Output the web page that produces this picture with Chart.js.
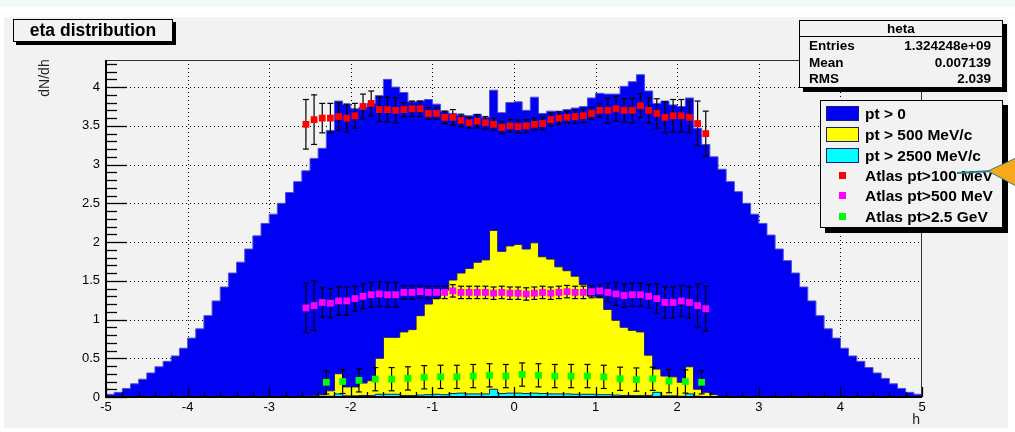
<!DOCTYPE html>
<html>
<head>
<meta charset="utf-8">
<title>eta distribution</title>
<script src="https://cdn.jsdelivr.net/npm/chart.js@4.4.1/dist/chart.umd.min.js"></script>
<style>
  html, body { margin: 0; padding: 0; background: #ffffff; }
  #wrap { position: relative; width: 1015px; height: 432px; overflow: hidden;
          font-family: "Liberation Sans", Arial, Helvetica, sans-serif; color: #000; }
  #topband { position: absolute; left: 0; top: 0; width: 1015px; height: 7px; background: #f3f9f9; }
  #pad { position: absolute; left: 4px; top: 17px; width: 1004px; height: 411px; background: #f2f2f2; }
  #plot { position: absolute; left: 0; top: 0; }
  .box { position: absolute; box-sizing: border-box; background: #f2f2f2; border: 1px solid #000; }
  #title { left: 13px; top: 19px; width: 160px; height: 23px; box-shadow: 3px 3px 0 #000;
           font-weight: bold; font-size: 17.5px; line-height: 21px; text-align: center; }
  #stats { left: 799px; top: 20px; width: 204px; height: 68px; box-shadow: 4px 4px 0 #000;
           font-weight: bold; font-size: 13.5px; }
  #stats .head { position: absolute; left: 0; top: 0; width: 100%; height: 15px; line-height: 15px;
                 text-align: center; border-bottom: 1px solid #000; }
  #stats .row { position: absolute; left: 9px; right: 11px; height: 16px; line-height: 16px; }
  #stats .row span:last-child { position: absolute; right: 0; }
  #legend { left: 820px; top: 100px; width: 183px; height: 128px; box-shadow: 5px 5px 0 #000;
            font-weight: bold; font-size: 15.5px; }
  #legend .entry { position: absolute; left: 0; height: 20px; line-height: 20px; width: 100%; }
  #legend .label { position: absolute; left: 44px; top: 0; white-space: nowrap; }
  #legend .fillbox { position: absolute; left: 5px; top: 2px; width: 33px; height: 15px;
                     box-sizing: border-box; border: 1px solid #1a1a80; }
  #legend .marker { position: absolute; left: 18px; top: 6px; width: 7px; height: 7px; }
  #ytitle { position: absolute; left: 14px; top: 70px; width: 60px; height: 16px; line-height: 16px;
            text-align: center; font-size: 14px; color: #222; transform: rotate(-90deg); }
  #xtitle { position: absolute; left: 890px; top: 411px; width: 30px; height: 16px; line-height: 16px;
            text-align: right; font-size: 14px; color: #222; }
  #callout { position: absolute; left: 0; top: 0; }
</style>
</head>
<body>
<div id="wrap">
  <div id="topband"></div>
  <div id="pad"></div>
  <canvas id="plot" width="1015" height="432" style="width:1015px;height:432px"></canvas>
  <div id="ytitle">dN/dh</div>
  <div id="xtitle">h</div>
  <div class="box" id="title">eta distribution</div>
  <div class="box" id="stats">
    <div class="head">heta</div>
    <div class="row" style="top:17px"><span>Entries</span><span>1.324248e+09</span></div>
    <div class="row" style="top:34px"><span>Mean</span><span>0.007139</span></div>
    <div class="row" style="top:50px"><span>RMS</span><span>2.039</span></div>
  </div>
  <div class="box" id="legend">
    <div class="entry" style="top:3px"><div class="fillbox" style="background:#0000f2"></div><div class="label">pt &gt; 0</div></div>
    <div class="entry" style="top:24px"><div class="fillbox" style="background:#ffff00"></div><div class="label">pt &gt; 500 MeV/c</div></div>
    <div class="entry" style="top:45px"><div class="fillbox" style="background:#00ffff"></div><div class="label">pt &gt; 2500 MeV/c</div></div>
    <div class="entry" style="top:65px"><div class="marker" style="background:#ff0000"></div><div class="label">Atlas pt&gt;100 MeV</div></div>
    <div class="entry" style="top:85px"><div class="marker" style="background:#ff00ff"></div><div class="label">Atlas pt&gt;500 MeV</div></div>
    <div class="entry" style="top:106px"><div class="marker" style="background:#00ff00"></div><div class="label">Atlas pt&gt;2.5 GeV</div></div>
  </div>
  <svg id="callout" width="1015" height="432" viewBox="0 0 1015 432">
    <line x1="957" y1="173" x2="992" y2="171" stroke="#2d7d8e" stroke-width="2"/>
    <polygon points="988,171 1016,158 1016,186" fill="#f7a81b" stroke="#2d7d8e" stroke-width="1"/>
  </svg>
</div>

<script>
// Histogram binning: 100 bins of 0.1 in eta over [-5, 5]
const ETA_MIN = -5;
const BIN_WIDTH = 0.1;

// charged particle density, all pt (bins from -5.0 to 5.0)
const dNdEtaAll = [
  0.034, 0.06, 0.11, 0.17, 0.23, 0.31, 0.39, 0.46, 0.53, 0.63,
  0.76, 0.88, 1.05, 1.24, 1.42, 1.60, 1.74, 1.91, 2.08, 2.24,
  2.36, 2.50, 2.64, 2.78, 2.92, 3.08, 3.21, 3.44, 3.82, 3.78,
  3.72, 3.74, 3.79, 3.89, 4.10, 4.00, 3.93, 3.81, 3.82, 3.84,
  3.78, 3.69, 3.66, 3.64, 3.63, 3.65, 3.61, 3.96, 3.67, 3.80,
  3.81, 3.70, 3.87, 3.66, 3.69, 3.69, 3.71, 3.73, 3.75, 3.86,
  3.92, 3.91, 3.91, 4.01, 4.07, 4.16, 3.95, 3.79, 3.82, 3.77,
  3.75, 3.86, 3.47, 3.26, 3.10, 2.94, 2.78, 2.65, 2.50, 2.36,
  2.24, 2.09, 1.91, 1.76, 1.60, 1.42, 1.24, 1.05, 0.88, 0.76,
  0.63, 0.53, 0.46, 0.38, 0.31, 0.24, 0.17, 0.11, 0.06, 0.035
];

// pt > 500 MeV/c and pt > 2500 MeV/c are only filled for |eta| < 2.5
const ETA_MIN_CENTRAL = -2.5;
const dNdEtaPt500 = [
  0.02, 0.03, 0.08, 0.30, 0.13, 0.13, 0.18, 0.21, 0.50, 0.77,
  0.77, 0.84, 0.87, 1.05, 1.20, 1.27, 1.38, 1.51, 1.60, 1.66,
  1.74, 1.77, 2.15, 1.88, 1.95,
  1.97, 1.91, 1.99, 1.81, 1.78, 1.68, 1.63, 1.56, 1.45, 1.30,
  1.28, 1.13, 0.99, 0.90, 0.86, 0.84, 0.54, 0.36, 0.27, 0.26,
  0.19, 0.39, 0.10, 0.06, 0.03
];
const dNdEtaPt2500 = [
  0.005, 0.01, 0.01, 0.04, 0.015, 0.015, 0.02, 0.02, 0.035, 0.035,
  0.035, 0.02, 0.02, 0.025, 0.03, 0.035, 0.03, 0.045, 0.05, 0.04,
  0.04, 0.04, 0.10, 0.045, 0.05,
  0.05, 0.045, 0.05, 0.045, 0.04, 0.04, 0.04, 0.035, 0.035, 0.035,
  0.03, 0.03, 0.025, 0.02, 0.02, 0.02, 0.02, 0.06, 0.015, 0.015,
  0.01, 0.04, 0.01, 0.005, 0.003
];

// ATLAS measurements
const atlasEta = [
  -2.55, -2.45, -2.35, -2.25, -2.15, -2.05, -1.95, -1.85, -1.75, -1.65,
  -1.55, -1.45, -1.35, -1.25, -1.15, -1.05, -0.95, -0.85, -0.75, -0.65,
  -0.55, -0.45, -0.35, -0.25, -0.15, -0.05, 0.05, 0.15, 0.25, 0.35,
  0.45, 0.55, 0.65, 0.75, 0.85, 0.95, 1.05, 1.15, 1.25, 1.35,
  1.45, 1.55, 1.65, 1.75, 1.85, 1.95, 2.05, 2.15, 2.25, 2.35
];
const atlasPt100 = [
  3.52, 3.58, 3.60, 3.60, 3.62, 3.60, 3.63, 3.75, 3.79, 3.71,
  3.71, 3.70, 3.71, 3.72, 3.72, 3.66, 3.66, 3.61, 3.61, 3.57,
  3.54, 3.56, 3.54, 3.52, 3.48, 3.50, 3.49, 3.50, 3.52, 3.53,
  3.58, 3.60, 3.61, 3.62, 3.63, 3.66, 3.70, 3.70, 3.72, 3.70,
  3.70, 3.76, 3.70, 3.66, 3.61, 3.63, 3.63, 3.61, 3.53, 3.40
];
const atlasPt100Err = [
  0.32, 0.32, 0.19, 0.19, 0.18, 0.18, 0.16, 0.16, 0.16, 0.16,
  0.16, 0.165, 0.09, 0.10, 0.10, 0.075, 0.075, 0.08, 0.10, 0.08,
  0.07, 0.085, 0.08, 0.08, 0.08, 0.08, 0.085, 0.08, 0.08, 0.08,
  0.085, 0.08, 0.075, 0.085, 0.085, 0.075, 0.085, 0.16, 0.16, 0.15,
  0.16, 0.155, 0.16, 0.19, 0.20, 0.21, 0.21, 0.20, 0.29, 0.29
];
const atlasPt500 = [
  1.15, 1.18, 1.22, 1.21, 1.24, 1.24, 1.27, 1.30, 1.32, 1.33,
  1.32, 1.32, 1.35, 1.35, 1.36, 1.35, 1.35, 1.35, 1.37, 1.35,
  1.35, 1.35, 1.35, 1.34, 1.35, 1.34, 1.34, 1.33, 1.34, 1.35,
  1.34, 1.35, 1.36, 1.35, 1.35, 1.36, 1.37, 1.35, 1.33, 1.31,
  1.32, 1.32, 1.30, 1.27, 1.22, 1.22, 1.24, 1.22, 1.18, 1.14
];
const atlasPt500Err = [
  0.32, 0.32, 0.19, 0.19, 0.18, 0.18, 0.16, 0.16, 0.16, 0.16,
  0.16, 0.16, 0.085, 0.085, 0.08, 0.08, 0.08, 0.08, 0.08, 0.08,
  0.08, 0.08, 0.08, 0.08, 0.08, 0.08, 0.08, 0.08, 0.08, 0.08,
  0.08, 0.08, 0.08, 0.08, 0.08, 0.08, 0.08, 0.12, 0.15, 0.15,
  0.15, 0.15, 0.15, 0.19, 0.20, 0.20, 0.20, 0.20, 0.28, 0.29
];
const atlasEtaWide = [
  -2.3, -2.1, -1.9, -1.7, -1.5, -1.3, -1.1, -0.9, -0.7, -0.5, -0.3, -0.1,
  0.1, 0.3, 0.5, 0.7, 0.9, 1.1, 1.3, 1.5, 1.7, 1.9, 2.1, 2.3
];
const atlasPt2500 = [
  0.19, 0.20, 0.215, 0.23, 0.23, 0.24, 0.255, 0.26, 0.26, 0.27, 0.28, 0.27,
  0.29, 0.28, 0.27, 0.27, 0.27, 0.26, 0.235, 0.225, 0.235, 0.205, 0.20, 0.19
];
const atlasPt2500Err = [
  0.15, 0.155, 0.15, 0.15, 0.15, 0.15, 0.15, 0.15, 0.15, 0.15, 0.15, 0.15,
  0.15, 0.15, 0.15, 0.15, 0.15, 0.15, 0.15, 0.15, 0.15, 0.15, 0.15, 0.15
];

// Axis ranges and labels
const X_RANGE = [-5, 5];
const Y_RANGE = [0, 4.35];
const X_MAJOR_STEP = 1, X_MINOR_DIV = 5;
const Y_MAJOR_STEP = 0.5, Y_MINOR_DIV = 5;

// Step outline of a histogram: closed down to zero on both ends
function histogramPoints(lowEdge, width, values) {
  const pts = [{ x: lowEdge, y: 0 }];
  values.forEach((v, i) => pts.push({ x: lowEdge + i * width, y: v }));
  const hi = lowEdge + values.length * width;
  pts.push({ x: hi, y: values[values.length - 1] });
  pts.push({ x: hi, y: 0 });
  return pts;
}

// Vertical error bars as separate segments (gap between points)
function errorBarPoints(xs, ys, errs) {
  const pts = [];
  xs.forEach((x, i) => {
    pts.push({ x, y: ys[i] - errs[i] }, { x, y: ys[i] + errs[i] }, { x, y: null });
  });
  return pts;
}

function markerPoints(xs, ys) {
  return xs.map((x, i) => ({ x, y: ys[i] }));
}

function histDataset(label, lowEdge, values, fillColor, lineColor, order) {
  return {
    label, data: histogramPoints(lowEdge, BIN_WIDTH, values),
    stepped: 'before', fill: 'origin',
    backgroundColor: fillColor, borderColor: lineColor, borderWidth: 1,
    pointRadius: 0, order
  };
}

function errorDataset(label, xs, ys, errs) {
  return {
    label, data: errorBarPoints(xs, ys, errs),
    borderColor: '#000', borderWidth: 1.2, spanGaps: false, fill: false,
    pointStyle: 'line', pointRadius: 3, pointBorderColor: '#000', pointBorderWidth: 1.2,
    order: 1
  };
}

function markerDataset(label, xs, ys, color) {
  return {
    label, data: markerPoints(xs, ys), showLine: false,
    pointStyle: 'rect', pointRadius: 4.8, pointBackgroundColor: color,
    pointBorderWidth: 0, order: 0
  };
}

const datasets = [
  markerDataset('Atlas pt>100 MeV', atlasEta, atlasPt100, '#ff0000'),
  markerDataset('Atlas pt>500 MeV', atlasEta, atlasPt500, '#ff00ff'),
  markerDataset('Atlas pt>2.5 GeV', atlasEtaWide, atlasPt2500, '#00ff00'),
  errorDataset('err pt>100', atlasEta, atlasPt100, atlasPt100Err),
  errorDataset('err pt>500', atlasEta, atlasPt500, atlasPt500Err),
  errorDataset('err pt>2.5', atlasEtaWide, atlasPt2500, atlasPt2500Err),
  histDataset('pt > 2500 MeV/c', ETA_MIN_CENTRAL, dNdEtaPt2500, '#00ffff', '#1a1a80', 2),
  histDataset('pt > 500 MeV/c', ETA_MIN_CENTRAL, dNdEtaPt500, '#ffff00', '#1a1a80', 3),
  histDataset('pt > 0', ETA_MIN, dNdEtaAll, '#0000f2', '#5050d8', 4)
];

// Dotted grid under the histograms, inward ticks and the frame on top
function minorValues(scale, step, div) {
  const out = [];
  const sub = step / div;
  const n = Math.round((scale.max - scale.min) / sub);
  for (let k = 0; k <= n; k++) {
    const v = scale.min + k * sub;
    if (Math.abs(v / step - Math.round(v / step)) > 1e-6) out.push(v);
  }
  return out;
}

const rootAxes = {
  id: 'rootAxes',
  beforeDatasetsDraw(chart) {
    const { ctx, chartArea: a, scales: { x, y } } = chart;
    ctx.save();
    ctx.strokeStyle = '#000';
    ctx.lineWidth = 1;
    ctx.setLineDash([1, 3]);
    x.ticks.forEach(t => {
      if (t.value <= x.min || t.value >= x.max) return;
      const px = Math.round(x.getPixelForValue(t.value)) + 0.5;
      ctx.beginPath(); ctx.moveTo(px, a.bottom); ctx.lineTo(px, a.top); ctx.stroke();
    });
    y.ticks.forEach(t => {
      if (t.value <= y.min || t.value >= y.max) return;
      const py = Math.round(y.getPixelForValue(t.value)) + 0.5;
      ctx.beginPath(); ctx.moveTo(a.left, py); ctx.lineTo(a.right, py); ctx.stroke();
    });
    ctx.restore();
  },
  afterDatasetsDraw(chart) {
    const { ctx, chartArea: a, scales: { x, y } } = chart;
    ctx.save();
    ctx.setLineDash([]);
    // frame (top and right)
    ctx.strokeStyle = '#333';
    ctx.lineWidth = 1;
    ctx.beginPath();
    ctx.moveTo(a.left, a.top + 0.5); ctx.lineTo(a.right - 0.5, a.top + 0.5); ctx.lineTo(a.right - 0.5, a.bottom);
    ctx.stroke();
    // ticks
    ctx.strokeStyle = '#000';
    ctx.lineWidth = 1.3;
    const tick = (x0, y0, x1, y1) => { ctx.beginPath(); ctx.moveTo(x0, y0); ctx.lineTo(x1, y1); ctx.stroke(); };
    x.ticks.forEach(t => { const px = Math.round(x.getPixelForValue(t.value)) + 0.5; tick(px, a.bottom, px, a.bottom - 10); });
    minorValues(x, X_MAJOR_STEP, X_MINOR_DIV).forEach(v => { const px = Math.round(x.getPixelForValue(v)) + 0.5; tick(px, a.bottom, px, a.bottom - 5); });
    y.ticks.forEach(t => { const py = Math.round(y.getPixelForValue(t.value)) + 0.5; tick(a.left, py, a.left + 21, py); });
    minorValues(y, Y_MAJOR_STEP, Y_MINOR_DIV).forEach(v => { const py = Math.round(y.getPixelForValue(v)) + 0.5; tick(a.left, py, a.left + 11, py); });
    // axis lines
    ctx.lineWidth = 2;
    tick(a.left, a.top, a.left, a.bottom + 1);
    tick(a.left - 1, a.bottom, a.right, a.bottom);
    ctx.restore();
  }
};

const tickFont = { family: '"Liberation Sans", Arial, Helvetica, sans-serif', size: 13 };
const plainNumber = v => String(Number(Number(v).toFixed(2)));

new Chart(document.getElementById('plot'), {
  type: 'line',
  data: { datasets },
  options: {
    responsive: false,
    animation: false,
    devicePixelRatio: 1,
    layout: { padding: { left: 0, right: 93, top: 60, bottom: 0 } },
    plugins: { legend: { display: false }, tooltip: { enabled: false }, title: { display: false } },
    elements: { line: { tension: 0 } },
    scales: {
      x: {
        type: 'linear', min: X_RANGE[0], max: X_RANGE[1],
        afterFit(s) { s.height = 35; },
        ticks: { stepSize: X_MAJOR_STEP, padding: 3, font: tickFont, color: '#000', maxRotation: 0, autoSkip: false,
                 callback: plainNumber },
        grid: { display: false, drawTicks: false },
        border: { display: false }
      },
      y: {
        type: 'linear', min: Y_RANGE[0], max: Y_RANGE[1],
        afterFit(s) { s.width = 106; },
        ticks: { stepSize: Y_MAJOR_STEP, includeBounds: false, padding: 6, font: tickFont, color: '#000',
                 callback: plainNumber },
        grid: { display: false, drawTicks: false },
        border: { display: false }
      }
    }
  },
  plugins: [rootAxes]
});
</script>
</body>
</html>
